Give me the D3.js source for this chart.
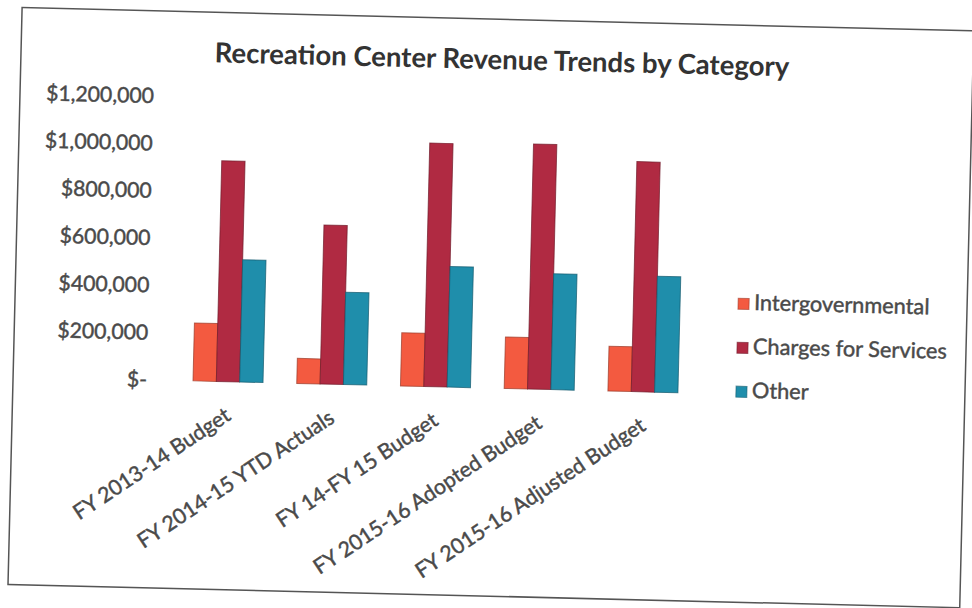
<!DOCTYPE html>
<html>
<head>
<meta charset="utf-8">
<script src="https://d3js.org/d3.v7.min.js"></script>
<style>
  body { margin: 0; background: #fff; }
  text { font-family: Lato, "Open Sans", sans-serif; }
  .lbl { fill: #4a4a4a; stroke: #4a4a4a; stroke-width: 0.45px; }
</style>
</head>
<body>
<div id="chart"></div>
<script>
const categories = ["FY 2013-14 Budget", "FY 2014-15 YTD Actuals", "FY 14-FY 15 Budget",
                    "FY 2015-16 Adopted Budget", "FY 2015-16 Adjusted Budget"];
const seriesNames = ["Intergovernmental", "Charges for Services", "Other"];
const intergovernmental = [245000, 106000, 225000, 218000, 189000];
const charges = [933000, 672000, 1029000, 1036000, 972000];
const other = [517000, 390000, 510000, 490000, 490000];
const yTicks = [0, 200000, 400000, 600000, 800000, 1000000, 1200000];
const colors = ["#f35a40", "#b02a42", "#1f8eab"];

const w = 972, h = 608;
const baseline = 388, plotTop = 104;
const values = [intergovernmental, charges, other];

const svg = d3.select("#chart").append("svg")
  .attr("width", w).attr("height", h);

// the scan is slightly tilted
const page = svg.append("g").attr("transform", "rotate(1.4, 486, 304)");

page.append("rect")
  .attr("x", 15).attr("y", 19).attr("width", 952).attr("height", 577)
  .attr("fill", "#fff").attr("stroke", "#555").attr("stroke-width", 1.5);

function fit(sel, target) {
  const len = sel.node().getComputedTextLength();
  const fs = parseFloat(sel.attr("font-size"));
  sel.attr("font-size", fs * target / len);
}

const title = page.append("text")
  .attr("x", 496).attr("y", 69)
  .attr("text-anchor", "middle")
  .attr("font-size", 21).attr("font-weight", "bold").attr("fill", "#333")
  .text("Recreation  Center Revenue Trends by Category");
fit(title, 575);

const x0 = d3.scaleBand().domain(categories)
  .range([160, 715]).paddingInner(0.325).paddingOuter(0.337);
const x1 = d3.scaleBand().domain(seriesNames).range([0, x0.bandwidth()]);
const y = d3.scaleLinear().domain([0, 1200000]).range([baseline, plotTop]);

const yAxis = page.append("g")
  .attr("transform", "translate(149,0)")
  .call(d3.axisLeft(y).tickValues(yTicks).tickSize(0).tickPadding(0)
    .tickFormat(v => v === 0 ? "$-" : "$" + d3.format(",")(v)));
yAxis.select(".domain").remove();
yAxis.selectAll("text").attr("class", "lbl").attr("font-size", 19)
  .attr("font-family", "Lato, sans-serif");
fit(yAxis.selectAll("text").filter(d => d === 1200000), 108);
const tickSize = yAxis.selectAll("text").filter(d => d === 1200000).attr("font-size");
yAxis.selectAll("text").attr("font-size", tickSize);

const groups = page.selectAll(".grp").data(categories).enter().append("g")
  .attr("class", "grp")
  .attr("transform", d => "translate(" + x0(d) + ",0)");

groups.selectAll("rect")
  .data((d, i) => seriesNames.map((s, j) => ({ s: s, v: values[j][i], c: colors[j] })))
  .enter().append("rect")
  .attr("x", d => x1(d.s))
  .attr("y", d => y(d.v))
  .attr("width", x1.bandwidth())
  .attr("height", d => baseline - y(d.v))
  .attr("fill", d => d.c)
  .attr("stroke", d => d3.color(d.c).darker(1.3))
  .attr("stroke-opacity", 0.7)
  .attr("stroke-width", 1);

page.selectAll(".xlab").data(categories).enter().append("text")
  .attr("class", "xlab lbl")
  .attr("transform", d => "translate(" + (x0(d) + x0.bandwidth() / 2 + 5) + "," + (baseline + 37) + ") rotate(-35)")
  .attr("text-anchor", "end")
  .attr("font-size", tickSize)
  .text(d => d);

const legend = page.append("g").attr("transform", "translate(738,297)");
seriesNames.forEach((s, i) => {
  const row = legend.append("g").attr("transform", "translate(0," + (i * 44) + ")");
  row.append("rect").attr("x", 0).attr("y", -5).attr("width", 11).attr("height", 11)
    .attr("fill", colors[i]).attr("stroke", d3.color(colors[i]).darker(1.2)).attr("stroke-opacity", 0.6);
  const t = row.append("text").attr("class", "lbl").attr("x", 16).attr("y", 6.5)
    .attr("font-size", 19).text(s);
  if (i === 1) fit(t, 194);
});
const legSize = legend.selectAll("text").filter((d, i) => i === 1).attr("font-size");
legend.selectAll("text").attr("font-size", legSize);
</script>
</body>
</html>
